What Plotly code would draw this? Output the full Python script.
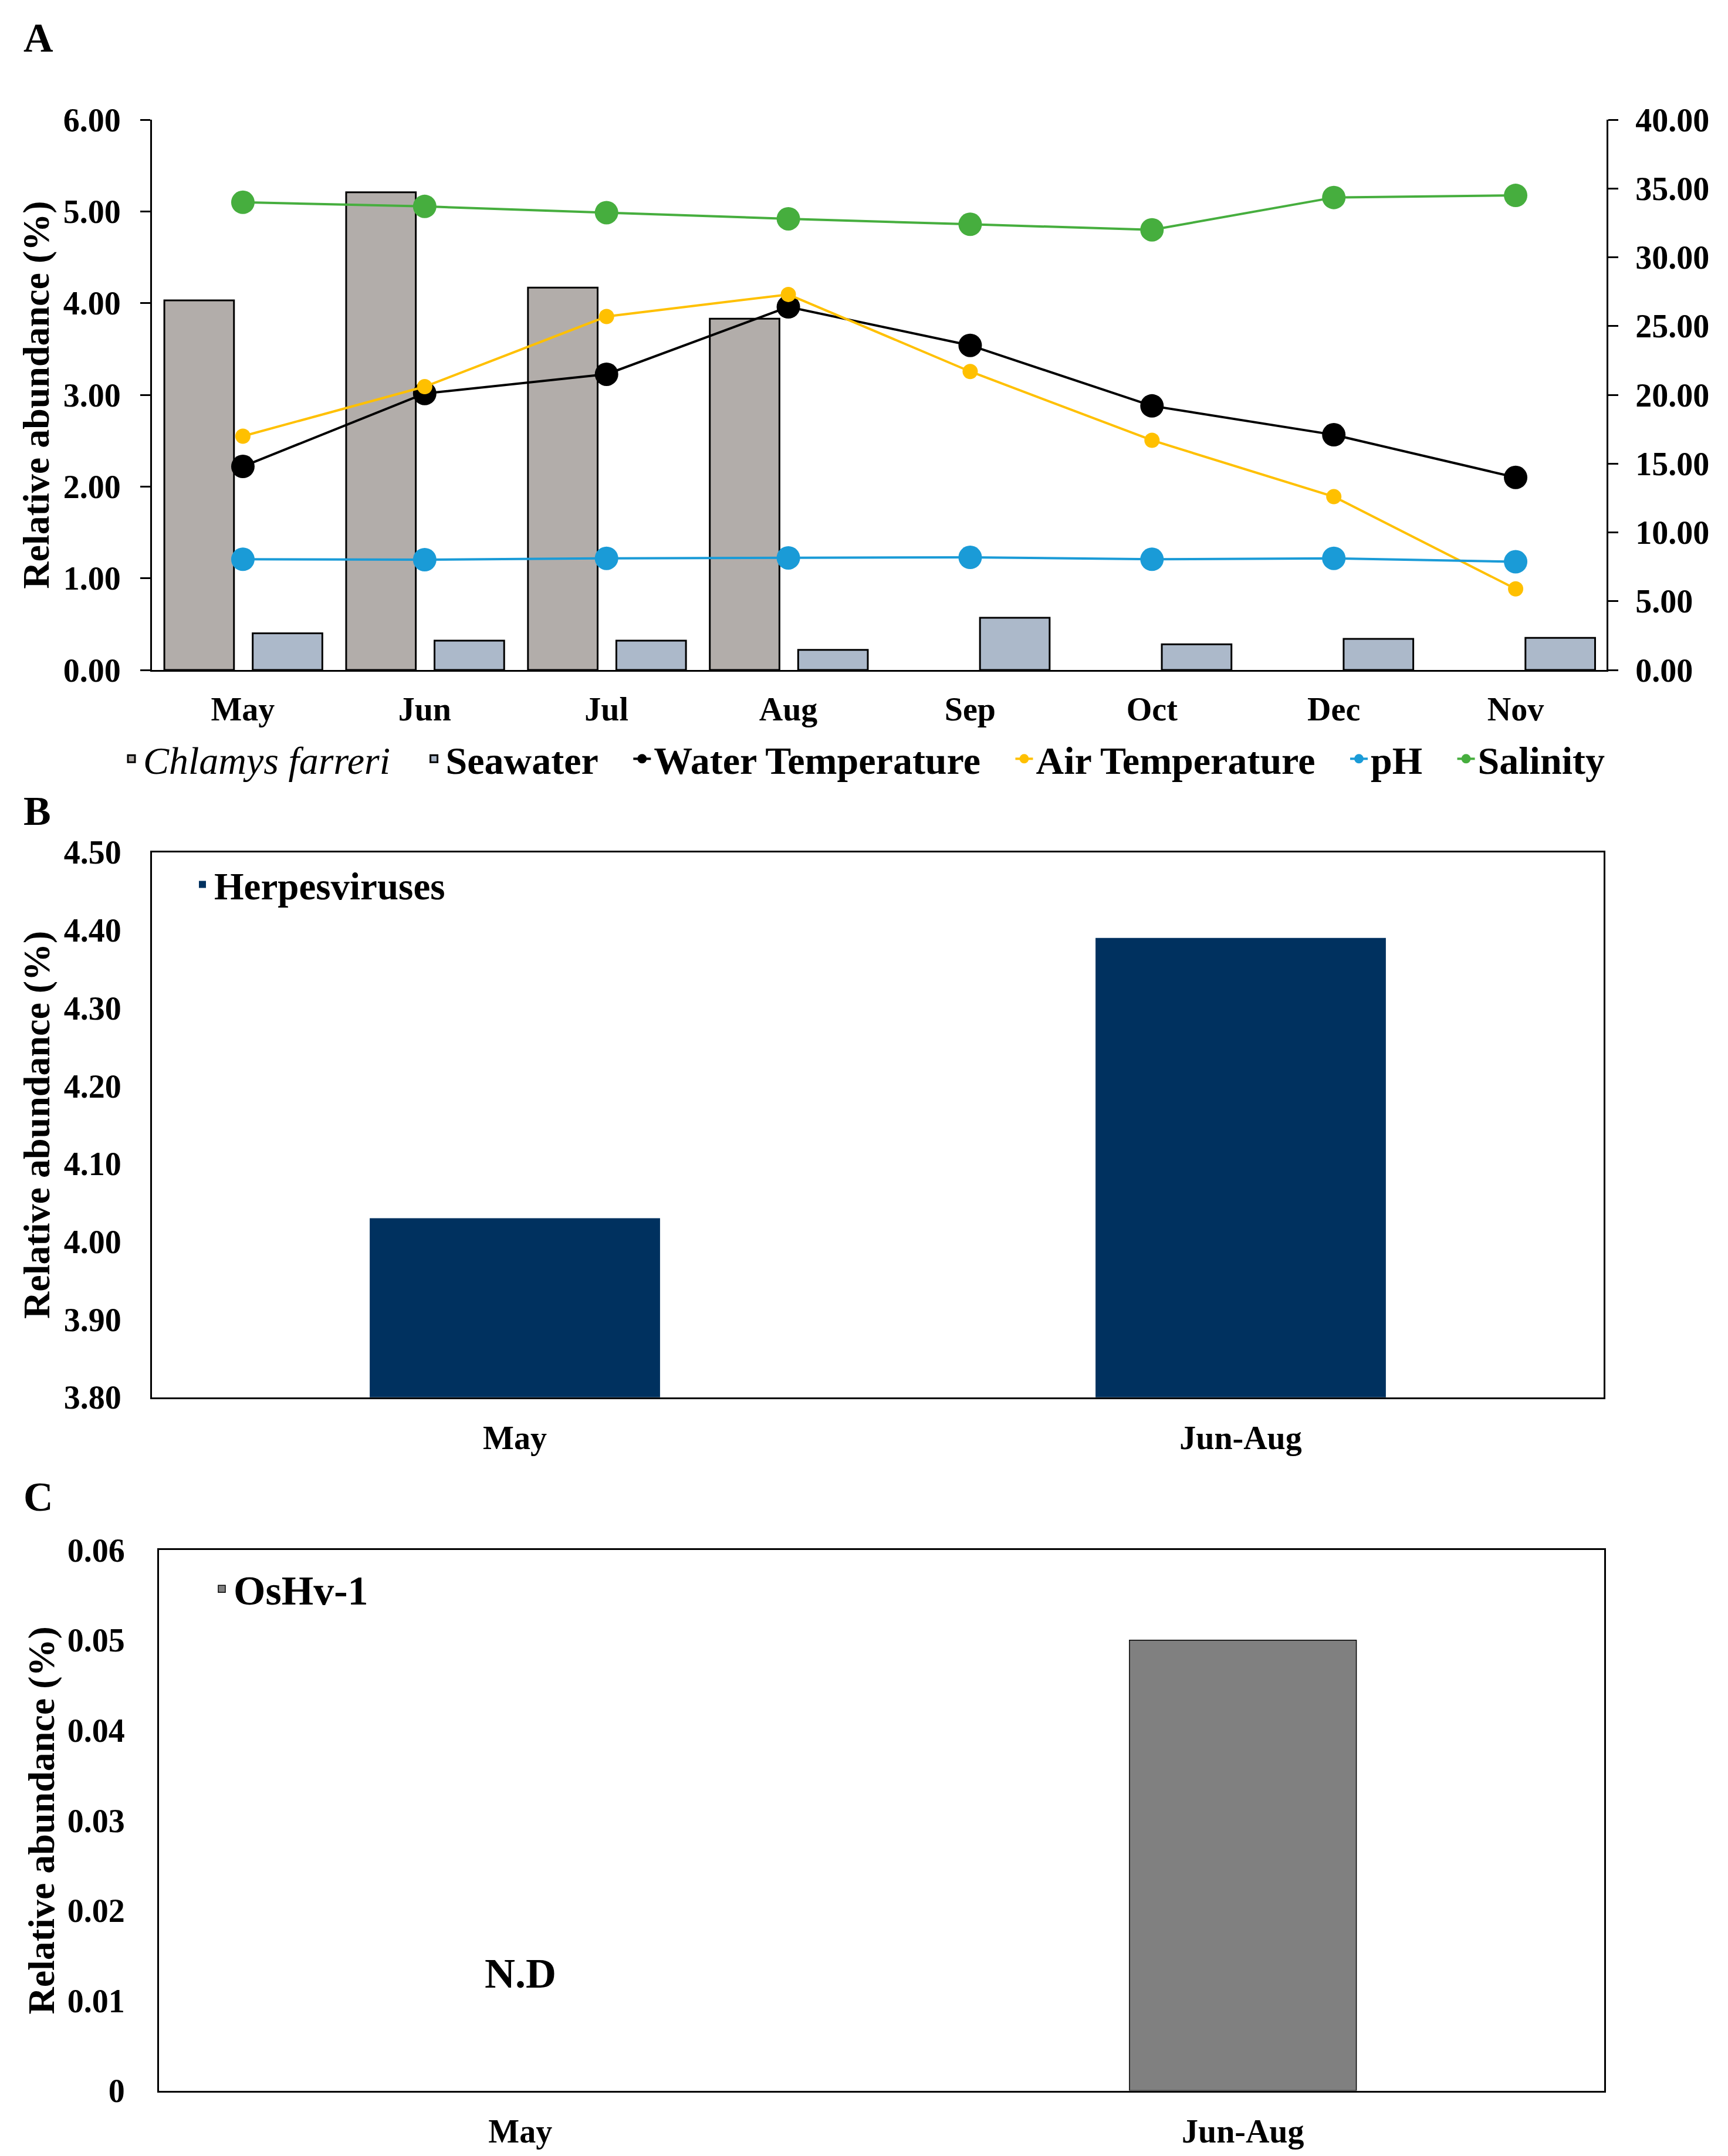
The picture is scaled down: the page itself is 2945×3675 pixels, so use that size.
import plotly.graph_objects as go

# ---------------- data ----------------
months = ["May", "Jun", "Jul", "Aug", "Sep", "Oct", "Dec", "Nov"]
chlamys = [4.03, 5.21, 4.17, 3.83, None, None, None, None]
seawater = [0.40, 0.32, 0.32, 0.22, 0.57, 0.28, 0.34, 0.35]
water_temp = [14.8, 20.1, 21.5, 26.4, 23.6, 19.2, 17.1, 14.0]
air_temp = [17.0, 20.6, 25.7, 27.3, 21.7, 16.7, 12.6, 5.9]
ph = [8.05, 8.02, 8.12, 8.15, 8.19, 8.05, 8.12, 7.87]
salinity = [34.0, 33.7, 33.25, 32.8, 32.4, 32.0, 34.35, 34.5]

periods = ["May", "Jun-Aug"]
herpes = [4.03, 4.39]
oshv = [None, 0.05]

FONT = "Liberation Serif"
W, H = 2945, 3675
PAD = "\u00a0\u00a0\u00a0"


def px_x(p):
    return p / W


def px_y(p):
    return 1 - p / H


def f(size, italic=False):
    return dict(family=FONT, size=size, color="black", weight="bold",
                style="italic" if italic else "normal")


fig = go.Figure()

# ---------------- panel A ----------------
fig.add_trace(go.Bar(x=months, y=chlamys,
                     name='<i><span style="font-weight:normal">Chlamys farreri</span></i>' + PAD,
                     marker=dict(color="#B2ADAA", line=dict(color="black", width=3)),
                     width=0.383, offset=-0.432, xaxis="x", yaxis="y", legend="legend"))
fig.add_trace(go.Bar(x=months, y=seawater, name="Seawater" + PAD,
                     marker=dict(color="#ACB9CA", line=dict(color="black", width=3)),
                     width=0.383, offset=0.054, xaxis="x", yaxis="y", legend="legend"))
fig.add_trace(go.Scatter(x=months, y=water_temp, name="Water Temperature" + PAD, mode="lines+markers",
                         line=dict(color="black", width=4), marker=dict(size=40, color="black"),
                         xaxis="x", yaxis="y2", legend="legend"))
fig.add_trace(go.Scatter(x=months, y=air_temp, name="Air Temperature" + PAD, mode="lines+markers",
                         line=dict(color="#FFC000", width=4), marker=dict(size=26, color="#FFC000"),
                         xaxis="x", yaxis="y2", legend="legend"))
fig.add_trace(go.Scatter(x=months, y=ph, name="pH" + PAD, mode="lines+markers",
                         line=dict(color="#1A9BD7", width=4), marker=dict(size=40, color="#1A9BD7"),
                         xaxis="x", yaxis="y2", legend="legend"))
fig.add_trace(go.Scatter(x=months, y=salinity, name="Salinity", mode="lines+markers",
                         line=dict(color="#46AE3E", width=4), marker=dict(size=40, color="#46AE3E"),
                         xaxis="x", yaxis="y2", legend="legend"))

# ---------------- panel B ----------------
fig.add_trace(go.Bar(x=periods, y=herpes, name="Herpesviruses",
                     marker=dict(color="#00315F", line=dict(width=0)),
                     width=0.4, xaxis="x2", yaxis="y3", legend="legend2"))

# ---------------- panel C ----------------
fig.add_trace(go.Bar(x=periods, y=oshv, name="OsHv-1",
                     marker=dict(color="#808080", line=dict(color="black", width=1.5)),
                     width=0.314, xaxis="x3", yaxis="y4", legend="legend3"))

title_text = "Relative abundance (%)"

fig.update_layout(
    width=W, height=H,
    margin=dict(l=0, r=0, t=0, b=0),
    paper_bgcolor="white", plot_bgcolor="white",
    font=f(56),
    barmode="overlay",
    # panel A axes
    xaxis=dict(domain=[px_x(251), px_x(2730)], anchor="y", type="category",
               showline=True, linecolor="black", linewidth=3, showgrid=False,
               ticks="outside", ticklen=16, tickcolor="rgba(0,0,0,0)", tickfont=f(56)),
    yaxis=dict(domain=[px_y(1123), px_y(169)], anchor="x", range=[0, 6], dtick=1,
               tickformat=".2f", showline=True, linecolor="black", linewidth=3,
               showgrid=False, zeroline=False, ticks="outside", ticklen=17, tickwidth=3,
               tickcolor="black", tickfont=f(56), ticklabelstandoff=22,
               title=dict(text=title_text, font=f(64), standoff=4)),
    yaxis2=dict(overlaying="y", side="right", anchor="x", range=[0, 40], dtick=5,
                tickformat=".2f", showline=True, linecolor="black", linewidth=3,
                showgrid=False, zeroline=False, ticks="outside", ticklen=17, tickwidth=3,
                tickcolor="black", tickfont=f(56), ticklabelstandoff=18),
    # panel B axes
    xaxis2=dict(domain=[px_x(251), px_x(2725)], anchor="y3", type="category",
                showline=True, mirror=True, linecolor="black", linewidth=3, showgrid=False,
                ticks="outside", ticklen=18, tickcolor="rgba(0,0,0,0)", tickfont=f(56)),
    yaxis3=dict(domain=[px_y(2384), px_y(1439)], anchor="x2", range=[3.8, 4.5], dtick=0.1,
                tickformat=".2f", showline=True, mirror=True, linecolor="black", linewidth=3,
                showgrid=False, zeroline=False, ticks="outside", ticklen=38,
                tickcolor="rgba(0,0,0,0)", tickfont=f(56),
                title=dict(text=title_text, font=f(64), standoff=4)),
    # panel C axes
    xaxis3=dict(domain=[px_x(263), px_x(2726)], anchor="y4", type="category",
                showline=True, mirror=True, linecolor="black", linewidth=3, showgrid=False,
                ticks="outside", ticklen=18, tickcolor="rgba(0,0,0,0)", tickfont=f(56)),
    yaxis4=dict(domain=[px_y(3586), px_y(2649)], anchor="x3", range=[0, 0.06], dtick=0.01,
                showline=True, mirror=True, linecolor="black", linewidth=3,
                showgrid=False, zeroline=False, ticks="outside", ticklen=44,
                tickcolor="rgba(0,0,0,0)", tickfont=f(56),
                title=dict(text=title_text, font=f(64), standoff=2)),
    legend=dict(orientation="h", x=px_x(1464), xanchor="center", y=px_y(1277), yanchor="middle",
                font=f(66), bgcolor="rgba(0,0,0,0)", traceorder="normal"),
    legend2=dict(x=px_x(317), xanchor="left", y=px_y(1495), yanchor="middle",
                 font=f(65), bgcolor="rgba(0,0,0,0)"),
    legend3=dict(x=px_x(350), xanchor="left", y=px_y(2716), yanchor="middle",
                 font=f(70), bgcolor="rgba(0,0,0,0)"),
    showlegend=True,
)

# panel letters and N.D label
for letter, ypx in [("A", 27), ("B", 1368), ("C", 2557)]:
    fig.add_annotation(text=letter, xref="paper", yref="paper", x=px_x(30), y=px_y(ypx),
                       xanchor="left", yanchor="middle", showarrow=False, font=f(70))

fig.add_annotation(text="N.D", x="May", y=0.013, xref="x3", yref="y4",
                   showarrow=False, font=f(72))

fig.write_html("out.html")
